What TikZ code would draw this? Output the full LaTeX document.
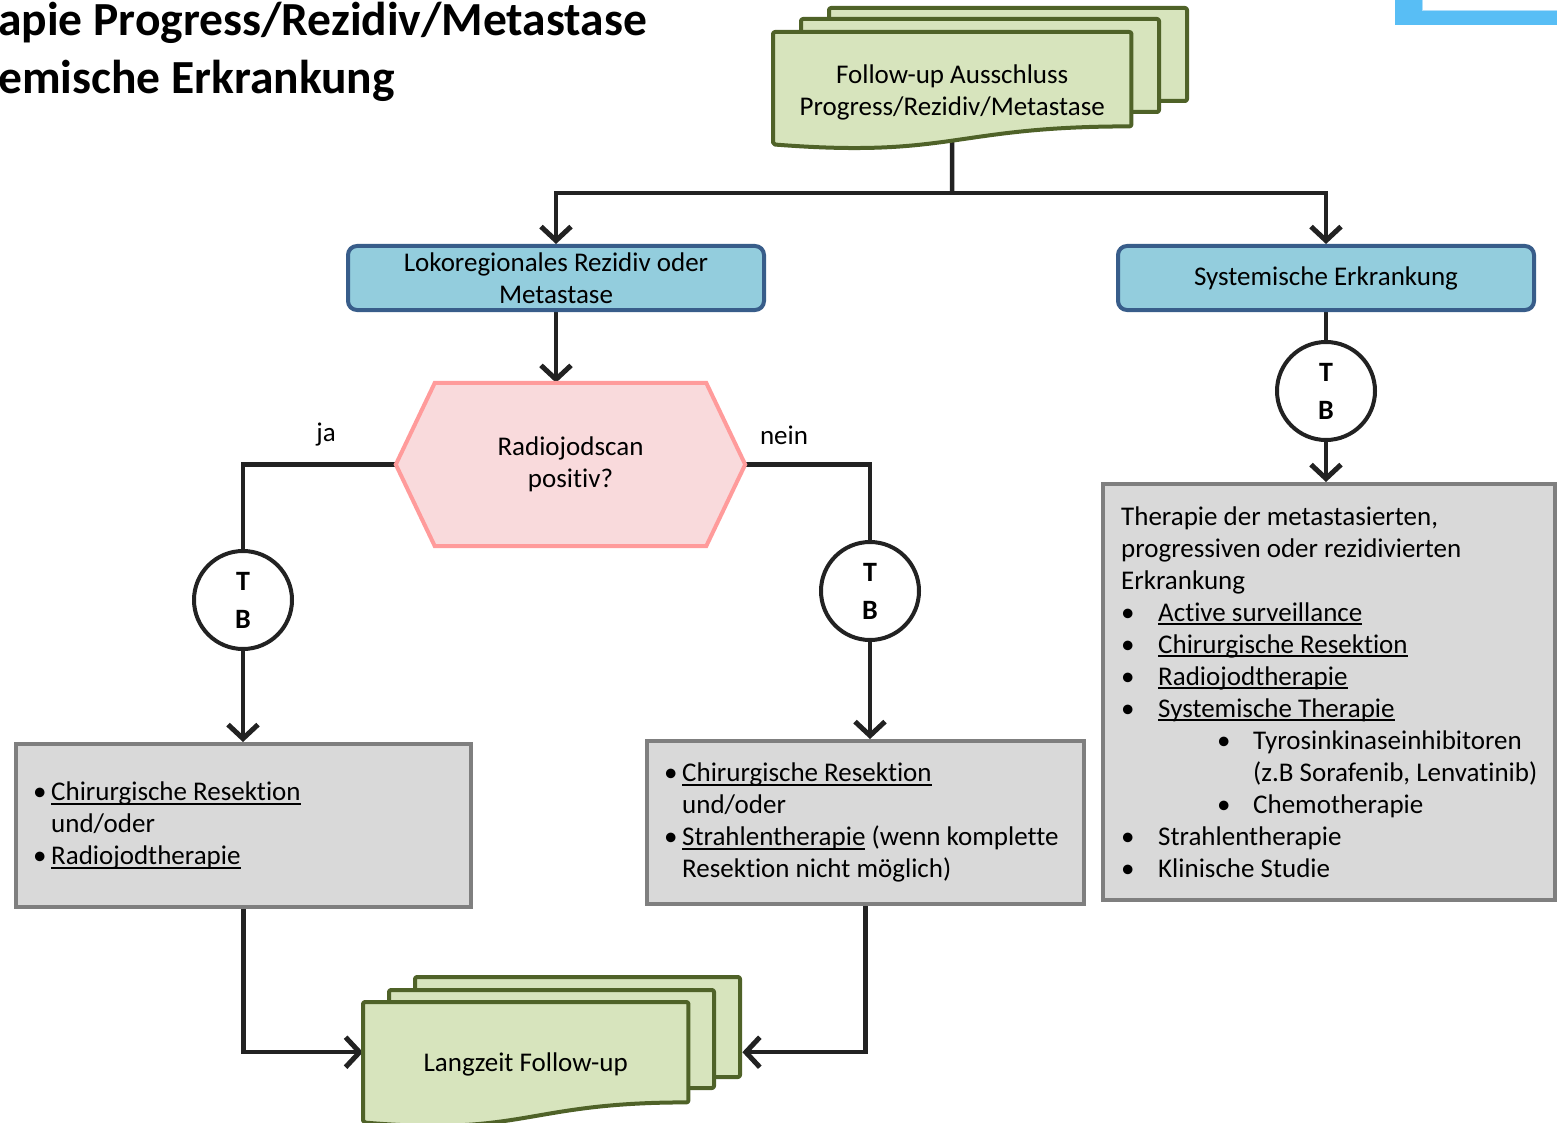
\documentclass[tikz,border=0pt]{standalone}
\usepackage{fontspec}
\setmainfont{Carlito}[Ligatures=NoCommon]
\usetikzlibrary{arrows.meta,calc}

\definecolor{docline}{HTML}{4F6228}
\definecolor{docfill}{HTML}{D7E4BD}
\definecolor{blueline}{HTML}{385D8A}
\definecolor{bluefill}{HTML}{93CDDD}
\definecolor{hexline}{HTML}{FF9B9B}
\definecolor{hexfill}{HTML}{F9DADC}
\definecolor{greyline}{HTML}{7F7F7F}
\definecolor{greyfill}{HTML}{D9D9D9}
\definecolor{linkcol}{HTML}{222222}
\definecolor{cornerblue}{RGB}{88,190,245}
\definecolor{cornerrim}{RGB}{175,222,250}

% underlined text with a fixed rule below the baseline
\newsavebox{\ulnbox}
\newcommand{\uln}[1]{\leavevmode\sbox{\ulnbox}{#1}\rlap{\rule[-4pt]{\wd\ulnbox}{1.8pt}}\usebox{\ulnbox}}
% bullets with hanging indents
\newcommand{\bul}{\makebox[18pt][l]{•}}
\newcommand{\bulw}{\makebox[37pt][l]{•}}
\newcommand{\subbul}{\hspace*{96pt}\makebox[36pt][l]{•}}

\pgfdeclarelayer{links}
\pgfdeclarelayer{sheets}
\pgfsetlayers{links,sheets,main}

\begin{document}
\begin{tikzpicture}[x=1pt,y=-1pt,
  txt/.style={font=\fontsize{27}{32}\selectfont, text=black},
  title/.style={font=\fontsize{47.5}{56}\selectfont\bfseries, text=black, inner sep=0pt},
  docsheet/.style={draw=docline, fill=docfill, line width=4pt, rounded corners=2pt, line join=round},
  doctext/.style={txt, align=center, inner sep=0pt},
  bluebox/.style={txt, align=center, draw=blueline, fill=bluefill, line width=4pt,
    rounded corners=9pt, minimum width=416pt, minimum height=64pt, inner sep=0pt},
  hexshape/.style={draw=hexline, fill=hexfill, line width=4pt, line join=miter},
  tb/.style={circle, draw=linkcol, fill=white, line width=4pt, minimum size=98pt,
    inner sep=0pt, align=center, font=\fontsize{28}{38}\selectfont\bfseries},
  greybox/.style={draw=greyline, fill=greyfill, line width=4pt, inner sep=0pt},
  boxtext/.style={txt, align=left, inner sep=0pt, anchor=west},
  link/.style={draw=linkcol, line width=4.5pt},
  arr/.style={link, -{Straight Barb[length=14pt, width=30pt, line width=5pt]}}
]
\useasboundingbox (0,0) rectangle (1557,1123);

% headline
\node[title, anchor=base west] (titleA) at (-2,36) {apie Progress/Rezidiv/Metastase};
\node[title, anchor=base west] (titleB) at (-2,94) {emische Erkrankung};

% corner ornament
\fill[cornerblue] (1395,0) rectangle (1560,25);
\filldraw[fill=white, draw=cornerrim, line width=1pt] (1422,-3) rectangle (1562,11);

% document outlines (text set separately)
\node[minimum width=358pt, minimum height=112pt, inner sep=0pt, anchor=north west] (fu) at (773,32) {};
\node[doctext] (fuText) at ([yshift=-4pt]fu.center) {Follow-up Ausschluss\\Progress/Rezidiv/Metastase};
\node[minimum width=325pt, minimum height=120pt, inner sep=0pt, anchor=north west] (lz) at (363,1002) {};
\node[doctext] (lzText) at ([yshift=-2pt]lz.center) {Langzeit Follow-up};

\node[bluebox] (lok) at (556,278) {Lokoregionales Rezidiv oder\\Metastase};
\node[bluebox] (sys) at (1326,278) {Systemische Erkrankung};
\node[doctext, minimum width=349pt, minimum height=163pt] (hex) at (570.5,464.5) {Radiojodscan\\positiv?};
\node[txt] (ja) at (326,435) {ja};
\node[txt] (nein) at (784,435) {nein};
\node[tb] (tbL) at (243,600) {T\\B};
\node[tb] (tbM) at (870,591) {T\\B};
\node[tb] (tbR) at (1326,391) {T\\B};

\node[greybox, minimum width=455pt, minimum height=163pt] (boxL) at (243.5,825.5) {};
\node[greybox, minimum width=437pt, minimum height=163pt] (boxM) at (865.5,822.5) {};
\node[greybox, minimum width=452pt, minimum height=416pt] (boxR) at (1329,692) {};

\node[boxtext] (listL) at ([xshift=19pt]boxL.west) {%
  \bul\uln{Chirurgische Resektion}\\
  \hspace*{18pt}und/oder\\
  \bul\uln{Radiojodtherapie}};
\node[boxtext] (listM) at ([xshift=19pt]boxM.west) {%
  \bul\uln{Chirurgische Resektion}\\
  \hspace*{18pt}und/oder\\
  \bul\uln{Strahlentherapie} (wenn komplette\\
  \hspace*{18pt}Resektion nicht möglich)};
\node[boxtext] (listR) at ([xshift=20pt]boxR.west) {%
  Therapie der metastasierten,\\
  progressiven oder rezidivierten\\
  Erkrankung\\
  \bulw\uln{Active surveillance}\\
  \bulw\uln{Chirurgische Resektion}\\
  \bulw\uln{Radiojodtherapie}\\
  \bulw\uln{Systemische Therapie}\\
  \subbul Tyrosinkinaseinhibitoren\\
  \hspace*{132pt}(z.B Sorafenib, Lenvatinib)\\
  \subbul Chemotherapie\\
  \bulw Strahlentherapie\\
  \bulw Klinische Studie};

\coordinate (split) at (952,193);
\coordinate (lzInL) at ([yshift=10pt]lz.west);
\coordinate (lzInR) at ($(lz.east)+(54,-10)$);

% document stacks and decision hexagon
\begin{pgfonlayer}{sheets}
  \draw[docsheet] ($(fu.north west)+(56,-24)$) rectangle ++(358,93);
  \draw[docsheet] ($(fu.north west)+(28,-13)$) rectangle ++(358,93);
  \draw[docsheet] (fu.north west) -- (fu.north east) -- ([yshift=18pt]fu.south east)
    .. controls ([yshift=18pt]fu.south) and ([yshift=-14pt]fu.south) .. (fu.south west) -- cycle;

  \draw[docsheet] ($(lz.north west)+(52,-25)$) rectangle ++(325,100);
  \draw[docsheet] ($(lz.north west)+(26,-12)$) rectangle ++(325,98);
  \draw[docsheet] (lz.north west) -- (lz.north east) -- ([yshift=20pt]lz.south east)
    .. controls ([yshift=20pt]lz.south) and ([yshift=-14pt]lz.south) .. (lz.south west) -- cycle;

  \draw[hexshape] (hex.west) -- ([xshift=39pt]hex.north west) -- ([xshift=-39pt]hex.north east)
    -- (hex.east) -- ([xshift=-39pt]hex.south east) -- ([xshift=39pt]hex.south west) -- cycle;
\end{pgfonlayer}

% connectors
\begin{pgfonlayer}{links}
  \draw[link] (fu.center) -- (split);
  \draw[arr] (split) -| (lok.north);
  \draw[arr] (split) -| (sys.north);
  \draw[arr] (lok.south) -- (lok.south |- hex.north);
  \draw[link] (hex.west) -| (tbL.north);
  \draw[link] (hex.east) -| (tbM.north);
  \draw[arr] (tbL.south) -- (tbL.south |- boxL.north);
  \draw[arr] (tbM.south) -- (tbM.south |- boxM.north);
  \draw[link] (sys.south) -- (tbR.north);
  \draw[arr] (tbR.south) -- (tbR.south |- boxR.north);
  \draw[arr] (boxL.south) |- (lzInL);
  \draw[arr] (boxM.south) |- (lzInR);
\end{pgfonlayer}
\end{tikzpicture}
\end{document}
